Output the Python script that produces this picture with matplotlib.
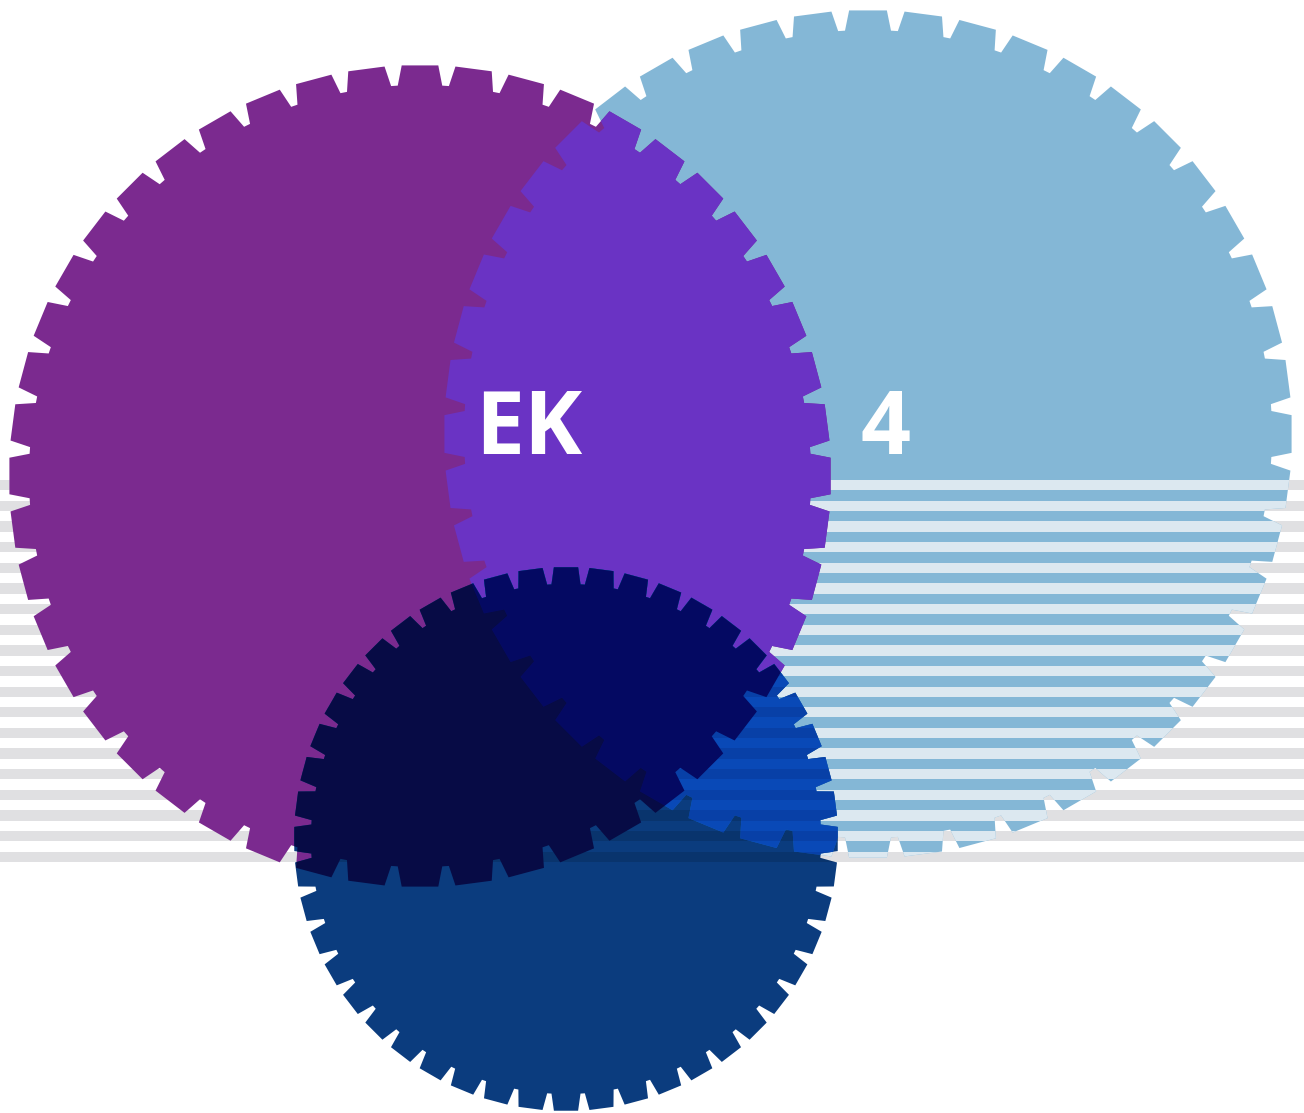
"""
Gear-edged three-set Venn diagram with a striped band behind it.
"""
import numpy as np
import matplotlib
matplotlib.use("Agg")
import matplotlib.pyplot as plt
from matplotlib.patches import Polygon

W, H = 1304, 1113

# sets A (purple), B (light blue), C (navy) — centre, tip radius, teeth, notch depth (pixels)
SET_X = [420, 868, 566]
SET_Y = [476, 434, 839]
SET_R = [411, 424, 272]
TEETH = [48, 48, 48]
NOTCH = [20, 20, 17]

# region colours
COL_A = "#7B2A8F"
COL_B = "#84B7D6"
COL_C = "#0B3C7E"
COL_AB = "#6A33C4"
COL_BC = "#0A4AB8"
COL_AC = "#070B45"
COL_ABC = "#050A62"

# labels
LABEL_TEXT = ["EK", "4"]
LABEL_X = [529, 886]
LABEL_Y = [431, 431]

# striped band
STRIPE_TOP = 480
STRIPE_PITCH = 20.65
STRIPE_COUNT = 19
STRIPE_H = 10.3
STRIPE_GREY = "#E0E0E2"
STRIPE_ON_B = "#DCE8F0"


def gear(cx, cy, r, n, depth):
    step = 2 * np.pi / n
    ang, rad = [], []
    for k in range(n):
        c = (k + 0.5) * step
        ang += [c - 0.16 * step, c - 0.065 * step, c + 0.065 * step, c + 0.16 * step]
        rad += [r, r - depth, r - depth, r]
    ang = np.array(ang)
    rad = np.array(rad)
    return np.column_stack([cx + rad * np.cos(ang), cy + rad * np.sin(ang)])


fig = plt.figure(figsize=(W / 100, H / 100), dpi=100)
ax = fig.add_axes([0, 0, 1, 1])
ax.set_xlim(0, W)
ax.set_ylim(H, 0)
ax.axis("off")

shapes = [gear(x, y, r, n, d) for x, y, r, n, d in zip(SET_X, SET_Y, SET_R, TEETH, NOTCH)]
clips = [Polygon(s, closed=True, transform=ax.transData) for s in shapes]
gA, gB, gC = shapes
cA, cB, cC = clips


def region(xy, color, z, clip=None, alpha=1.0):
    p = Polygon(xy, closed=True, fc=color, ec="none", lw=0, zorder=z, alpha=alpha)
    ax.add_patch(p)
    if clip is not None:
        p.set_clip_path(clip)
    return p


def stripes(color, z, clip=None, alpha=1.0):
    ys = STRIPE_TOP + STRIPE_H / 2 + STRIPE_PITCH * np.arange(STRIPE_COUNT)
    bars = ax.barh(ys, W, height=STRIPE_H, left=0, color=color, lw=0,
                   zorder=z, alpha=alpha)
    if clip is not None:
        for b in bars:
            b.set_clip_path(clip)


stripes(STRIPE_GREY, 1)
region(gB, COL_B, 2)
stripes(STRIPE_ON_B, 3, clip=cB)
region(gA, COL_A, 4)
region(gB, COL_AB, 5, clip=cA)
region(gC, COL_C, 6)

# B∩C base tone, then a translucent wash keeps B∩C and A∩B∩C apart
wash = np.array([3, 9, 127]) / 255
bc_base = np.clip(2 * np.array(matplotlib.colors.to_rgb(COL_BC)) - wash, 0, 1)
region(gB, bc_base, 7, clip=cC)
stripes("black", 8, clip=cC, alpha=0.13)
region(gA, COL_AC, 9, clip=cC)
region(gB, wash, 10, clip=cC, alpha=0.5)

for t, x, y in zip(LABEL_TEXT, LABEL_X, LABEL_Y):
    ax.text(x, y, t, ha="center", va="center", color="white", fontsize=63,
            fontweight="bold", family=["Open Sans", "DejaVu Sans"], zorder=20)

fig.savefig("out.png", dpi=100)
plt.close(fig)
